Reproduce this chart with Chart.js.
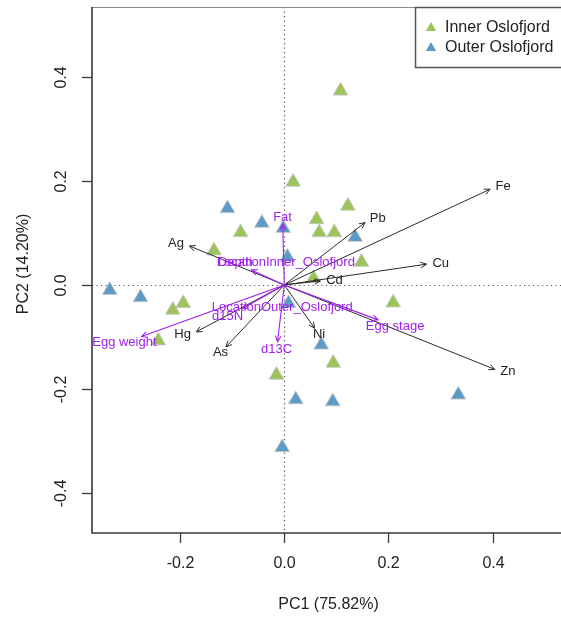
<!DOCTYPE html>
<html>
<head>
<meta charset="utf-8">
<title>PCA biplot – Oslofjord eggs</title>
<script src="https://cdn.jsdelivr.net/npm/chart.js@4.4.1/dist/chart.umd.min.js"></script>
<style>
  html, body { margin: 0; padding: 0; background: #ffffff; overflow: hidden; }
  #wrap { width: 561px; height: 617px; }
</style>
</head>
<body>
<div id="wrap"><canvas id="biplot" width="561" height="617"></canvas></div>
<script>
// ---- sample scores (PC1, PC2) ----
const innerPC1 = [0.108, 0.017, 0.122, 0.062, 0.067, 0.096, -0.084, -0.135, 0.148, 0.056, 0.209, -0.194, -0.214, -0.242, 0.094, -0.015];
const innerPC2 = [0.373, 0.198, 0.152, 0.126, 0.101, 0.101, 0.101, 0.066, 0.044, 0.013, -0.034, -0.035, -0.048, -0.107, -0.150, -0.173];
const outerPC1 = [-0.335, -0.276, -0.109, -0.043, -0.002, 0.006, 0.136, 0.008, 0.071, 0.022, 0.093, 0.334, -0.004];
const outerPC2 = [-0.010, -0.024, 0.147, 0.119, 0.109, 0.054, 0.092, -0.035, -0.115, -0.220, -0.224, -0.211, -0.312];

// ---- element loadings (black arrows) ----
const elementNames = ['Fe', 'Pb', 'Cu', 'Cd', 'Zn', 'Ni', 'Ag', 'Hg', 'As'];
const elementPC1 = [0.395, 0.155, 0.273, 0.069, 0.404, 0.058, -0.182, -0.169, -0.112];
const elementPC2 = [0.184, 0.120, 0.040, 0.008, -0.162, -0.083, 0.075, -0.090, -0.119];

// ---- fitted explanatory variables (purple arrows) ----
const covariateNames = ['Fat', 'd13C', 'Egg weight', 'Egg stage', 'd15N', 'Depth'];
const covariatePC1 = [-0.003, -0.013, -0.274, 0.180, -0.080, -0.063];
const covariatePC2 = [0.117, -0.109, -0.099, -0.067, -0.045, 0.029];

// ---- factor centroids (purple labels) ----
const factorNames = ['LocationInner_Oslofjord', 'LocationOuter_Oslofjord'];
const factorPC1 = [0.003, -0.004];
const factorPC2 = [0.044, -0.044];

// ---- axes ----
const pc1Ticks = [-0.2, 0.0, 0.2, 0.4];
const pc2Ticks = [-0.4, -0.2, 0.0, 0.2, 0.4];
const pc1Title = 'PC1 (75.82%)';
const pc2Title = 'PC2 (14.20%)';
const groupNames = ['Inner Oslofjord', 'Outer Oslofjord'];

const GREEN = '#9cc459';
const BLUE = '#5d9ac6';
const PURPLE = '#a020f0';
const INK = '#222222';
const FONT = '"Liberation Sans", Arial, Helvetica, sans-serif';

const toXY = (xs, ys) => xs.map((x, i) => ({ x: x, y: ys[i] }));

function drawArrow(ctx, x0, y0, x1, y1, color, lw) {
  const a = Math.atan2(y1 - y0, x1 - x0);
  const head = 6.5, spread = Math.PI / 7;
  ctx.save();
  ctx.strokeStyle = color;
  ctx.lineWidth = lw;
  ctx.beginPath();
  ctx.moveTo(x0, y0);
  ctx.lineTo(x1, y1);
  ctx.moveTo(x1 - head * Math.cos(a - spread), y1 - head * Math.sin(a - spread));
  ctx.lineTo(x1, y1);
  ctx.lineTo(x1 - head * Math.cos(a + spread), y1 - head * Math.sin(a + spread));
  ctx.stroke();
  ctx.restore();
}

const biplotDecor = {
  id: 'biplotDecor',
  beforeDatasetsDraw(chart) {
    const { ctx, chartArea: ca, scales: { x, y } } = chart;
    const x0 = x.getPixelForValue(0), y0 = y.getPixelForValue(0);
    ctx.save();
    // dotted reference lines through the origin
    ctx.strokeStyle = '#555555';
    ctx.lineWidth = 1.2;
    ctx.setLineDash([1.2, 3.3]);
    ctx.beginPath();
    ctx.moveTo(Math.round(x0) + 0.5, ca.top);
    ctx.lineTo(Math.round(x0) + 0.5, ca.bottom);
    ctx.moveTo(ca.left, Math.round(y0) + 0.5);
    ctx.lineTo(ca.right, Math.round(y0) + 0.5);
    ctx.stroke();
    ctx.restore();
  },
  afterDatasetsDraw(chart) {
    const { ctx, chartArea: ca, scales: { x, y } } = chart;
    const ox = x.getPixelForValue(0), oy = y.getPixelForValue(0);

    // element loadings
    ctx.save();
    ctx.font = '13px ' + FONT;
    ctx.textBaseline = 'middle';
    elementNames.forEach((name, i) => {
      const tx = x.getPixelForValue(elementPC1[i]);
      const ty = y.getPixelForValue(elementPC2[i]);
      drawArrow(ctx, ox, oy, tx, ty, '#2b2b2b', 1);
      const len = Math.hypot(tx - ox, ty - oy);
      const ux = (tx - ox) / len, uy = (ty - oy) / len;
      ctx.fillStyle = INK;
      if (Math.abs(ux) >= 0.75) {
        ctx.textAlign = ux > 0 ? 'left' : 'right';
        ctx.fillText(name, tx + 6 * ux, ty + 6 * uy);
      } else {
        ctx.textAlign = 'center';
        ctx.fillText(name, tx + 8 * ux, ty + 8 * uy);
      }
    });

    // explanatory variables
    covariateNames.forEach((name, i) => {
      const tx = x.getPixelForValue(covariatePC1[i]);
      const ty = y.getPixelForValue(covariatePC2[i]);
      drawArrow(ctx, ox, oy, tx, ty, PURPLE, 1.1);
      const len = Math.hypot(tx - ox, ty - oy);
      const ux = (tx - ox) / len, uy = (ty - oy) / len;
      const k = 6 + 13 * Math.abs(ux);
      ctx.fillStyle = PURPLE;
      ctx.textAlign = 'center';
      ctx.fillText(name, tx + k * ux, ty + k * uy);
    });

    // factor level centroids
    factorNames.forEach((name, i) => {
      ctx.fillStyle = PURPLE;
      ctx.textAlign = 'center';
      ctx.fillText(name, x.getPixelForValue(factorPC1[i]), y.getPixelForValue(factorPC2[i]));
    });
    ctx.restore();

    // plot frame
    ctx.save();
    ctx.lineWidth = 1;
    ctx.strokeStyle = '#8a8a8a';
    ctx.beginPath();
    ctx.moveTo(ca.left, ca.top + 0.5);
    ctx.lineTo(ca.right, ca.top + 0.5);
    ctx.stroke();
    ctx.lineWidth = 1.6;
    ctx.strokeStyle = '#3a3a3a';
    ctx.beginPath();
    ctx.moveTo(ca.left, ca.top);
    ctx.lineTo(ca.left, ca.bottom);
    ctx.lineTo(ca.right, ca.bottom);
    ctx.stroke();

    // axis ticks and labels
    ctx.lineWidth = 1.3;
    ctx.fillStyle = INK;
    ctx.font = '16px ' + FONT;
    ctx.textAlign = 'center';
    ctx.textBaseline = 'middle';
    pc1Ticks.forEach(v => {
      const px = Math.round(x.getPixelForValue(v)) + 0.5;
      ctx.beginPath();
      ctx.moveTo(px, ca.bottom);
      ctx.lineTo(px, ca.bottom + 10);
      ctx.stroke();
      ctx.fillText(v.toFixed(1), px, ca.bottom + 31);
    });
    pc2Ticks.forEach(v => {
      const py = Math.round(y.getPixelForValue(v)) + 0.5;
      ctx.beginPath();
      ctx.moveTo(ca.left - 10, py);
      ctx.lineTo(ca.left, py);
      ctx.stroke();
      ctx.save();
      ctx.translate(ca.left - 30, py);
      ctx.rotate(-Math.PI / 2);
      ctx.fillText(v.toFixed(1), 0, 0);
      ctx.restore();
    });

    // axis titles
    ctx.fillText(pc1Title, (ca.left + ca.right) / 2 + 2, ca.bottom + 72);
    ctx.save();
    ctx.translate(24, (ca.top + ca.bottom) / 2 - 6);
    ctx.rotate(-Math.PI / 2);
    ctx.fillText(pc2Title, 0, 0);
    ctx.restore();
    ctx.restore();

    // legend
    ctx.save();
    const lx = 415, ly = ca.top;
    ctx.fillStyle = '#ffffff';
    ctx.fillRect(lx, ly, ca.right - lx + 10, 60);
    ctx.strokeStyle = '#555555';
    ctx.lineWidth = 1.5;
    ctx.strokeRect(lx + 0.5, ly + 0.5, ca.right - lx + 10, 60);
    const legendColors = [GREEN, BLUE];
    ctx.font = '16px ' + FONT;
    ctx.textAlign = 'left';
    ctx.textBaseline = 'middle';
    groupNames.forEach((g, i) => {
      const cy = ly + 21 + i * 20;
      const r = 6;
      ctx.fillStyle = legendColors[i];
      ctx.beginPath();
      ctx.moveTo(lx + 16, cy - r);
      ctx.lineTo(lx + 16 + r * 0.866, cy + r * 0.5);
      ctx.lineTo(lx + 16 - r * 0.866, cy + r * 0.5);
      ctx.closePath();
      ctx.fill();
      ctx.fillStyle = INK;
      ctx.fillText(g, lx + 30, cy);
    });
    ctx.restore();
  }
};

new Chart(document.getElementById('biplot'), {
  type: 'scatter',
  data: {
    datasets: [
      {
        label: groupNames[0],
        data: toXY(innerPC1, innerPC2),
        pointStyle: 'triangle',
        pointRadius: 8.5,
        pointHoverRadius: 8.5,
        backgroundColor: GREEN,
        borderColor: 'rgba(200,200,200,0.9)',
        borderWidth: 1
      },
      {
        label: groupNames[1],
        data: toXY(outerPC1, outerPC2),
        pointStyle: 'triangle',
        pointRadius: 8.5,
        pointHoverRadius: 8.5,
        backgroundColor: BLUE,
        borderColor: 'rgba(200,200,200,0.9)',
        borderWidth: 1
      }
    ]
  },
  options: {
    responsive: false,
    animation: false,
    events: [],
    layout: { autoPadding: false, padding: { top: 7, left: 0, right: 0, bottom: 0 } },
    plugins: { legend: { display: false }, tooltip: { enabled: false } },
    scales: {
      x: {
        type: 'linear',
        min: -0.3691,
        max: 0.5311,
        afterFit(s) { s.height = 84; },
        ticks: { display: false },
        grid: { display: false },
        border: { display: false }
      },
      y: {
        type: 'linear',
        min: -0.4765,
        max: 0.5341,
        afterFit(s) { s.width = 92; },
        ticks: { display: false },
        grid: { display: false },
        border: { display: false }
      }
    }
  },
  plugins: [biplotDecor]
});
</script>
</body>
</html>
